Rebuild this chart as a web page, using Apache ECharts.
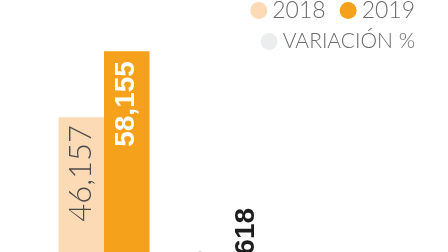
<!DOCTYPE html>
<html>
<head>
<meta charset="utf-8">
<script src="https://cdn.jsdelivr.net/npm/echarts@6/dist/echarts.min.js"></script>
<style>html,body{margin:0;padding:0;background:#fff}#c{width:448px;height:252px}</style>
</head>
<body>
<div id="c"></div>
<script>
var categories = ['A', 'B'];
var values2018 = [46157, 6700];
var values2019 = [58155, 14618];
var variacion = [];
var seriesNames = ['2018', '2019', 'VARIACIÓN %'];

var fmt = function (p) { return p.value.toLocaleString('en-US'); };

function items(vals, insideStyle, outsideStyle) {
  return vals.map(function (v, i) {
    return { value: v, label: i === 0 ? insideStyle : outsideStyle };
  });
}

var lightFont = { fontFamily: 'Lato', fontWeight: 300, fontSize: 31, color: '#4a4a4a' };
var boldFont = { fontFamily: "'Liberation Sans Narrow', 'Liberation Sans', sans-serif", fontWeight: 'bold', fontSize: 28 };

var chart = echarts.init(document.getElementById('c'), null, { renderer: 'canvas' });
chart.setOption({
  animation: false,
  grid: { left: 44.25, right: 164.75, top: -14, height: 385, containLabel: false, outerBoundsMode: 'none' },
  xAxis: { type: 'category', data: categories, show: false },
  yAxis: { type: 'value', min: 0, max: 70000, show: false },
  legend: [
    {
      data: [seriesNames[0], seriesNames[1]], right: 28, top: -6,
      icon: 'circle', itemWidth: 17, itemHeight: 17, itemGap: 14,
      textStyle: { fontFamily: 'Lato', fontWeight: 300, fontSize: 23, color: '#6b6b6b' }
    },
    {
      data: [seriesNames[2]], right: 28, top: 26,
      icon: 'circle', itemWidth: 17, itemHeight: 17,
      textStyle: { fontFamily: 'Lato', fontWeight: 300, fontSize: 21, color: '#6b6b6b' }
    }
  ],
  series: [
    {
      name: seriesNames[0], type: 'bar', barWidth: 45.5, barGap: 0,
      itemStyle: { color: '#FCDAB6' },
      data: items(values2018,
        Object.assign({ show: true, position: 'insideTop', rotate: 90, align: 'right', verticalAlign: 'middle', distance: 8, formatter: fmt }, lightFont),
        Object.assign({ show: true, position: 'top', rotate: 90, align: 'left', verticalAlign: 'middle', distance: 5, formatter: fmt }, lightFont))
    },
    {
      name: seriesNames[1], type: 'bar', barWidth: 45.5, barGap: 0,
      itemStyle: { color: '#F6A11C' },
      data: items(values2019,
        Object.assign({ show: true, position: 'insideTop', rotate: 90, align: 'right', verticalAlign: 'middle', distance: 10, formatter: fmt, color: '#ffffff' }, boldFont),
        Object.assign({ show: true, position: 'top', rotate: 90, align: 'left', verticalAlign: 'middle', distance: -3, formatter: fmt, color: '#1e1e1e' }, boldFont))
    },
    {
      name: seriesNames[2], type: 'line', data: variacion,
      itemStyle: { color: '#ECEDEE' }
    }
  ]
});
</script>
</body>
</html>
